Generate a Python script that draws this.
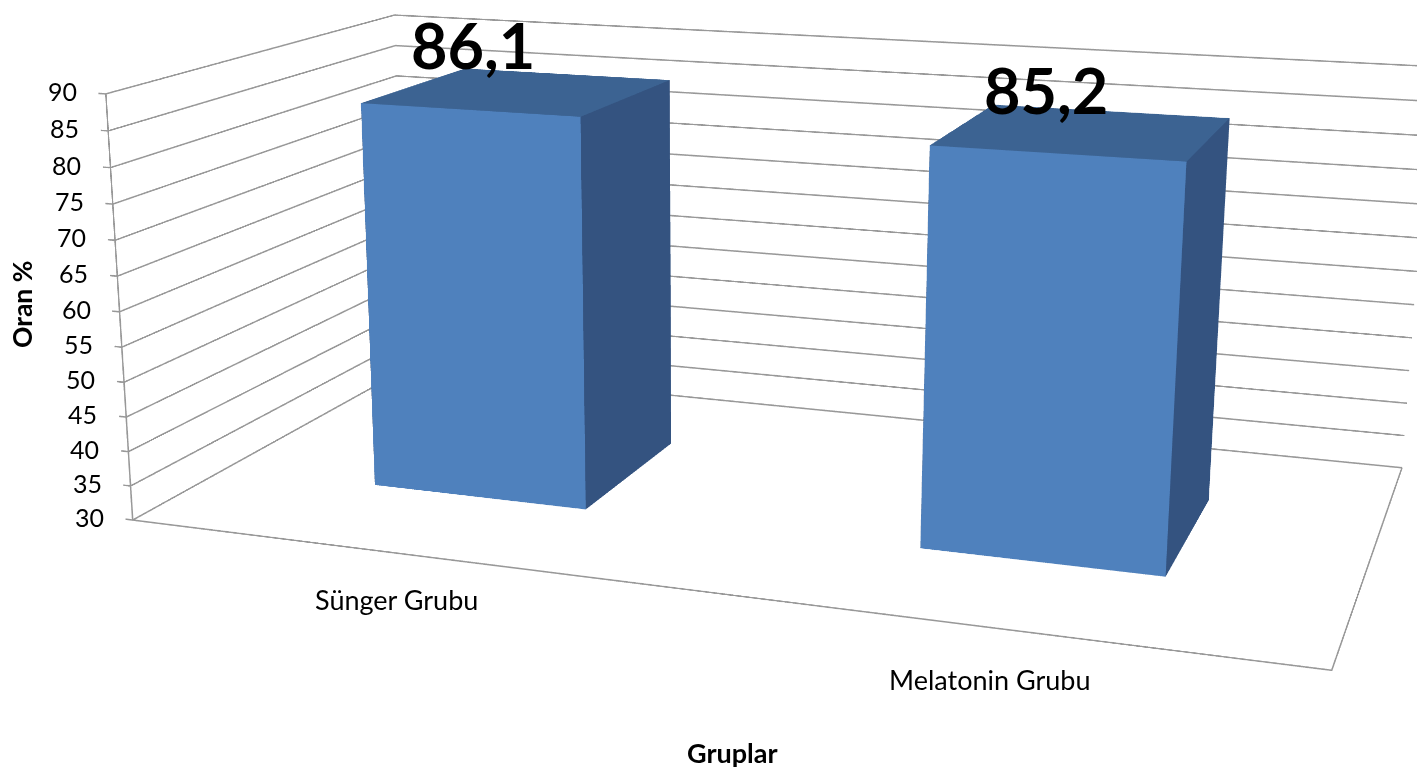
import numpy as np, plotly.graph_objects as go

categories = ["Sünger Grubu", "Melatonin Grubu"]
values = [86.1, 85.2]
ticks = list(range(30, 95, 5))

# Walls / floor in data units
X_LEFT, X_RIGHT = -0.5, 1.5
Y_FRONT, Y_BACK = 0.0, 1.0
Z_MIN, Z_MAX = 30.0, 90.0
TICK = 0.014
BAR_W = 0.4044
Y0, Y1 = 0.30325, 0.70325

# Axis ranges reach a little past the walls so that lines on the walls are not clipped
base = [(X_LEFT, X_RIGHT), (Y_FRONT, Y_BACK), (Z_MIN, Z_MAX)]
ranges = [(X_LEFT - 0.03, X_RIGHT + 0.03), (Y_FRONT - 0.03, Y_BACK + 0.03), (Z_MIN - 1.0, Z_MAX + 1.0)]

# Plotly's 3D camera has a fixed 45 degree lens. The reference has a long lens, so the scene is
# drawn on a larger canvas and the page shows its central 1417x769 part.
W, H = 3947, 2142
DX, DY = 1265, 686

eye = np.array([1.1675, -3.5766, 0.9031])
center = np.array([-0.0408, -0.2409, -0.0866])
up = np.array([-0.0005, -0.0058, 1.0])
aspect = np.array([1.7404, 0.9052, 0.6347])
# same world geometry with the wider ranges, keeping the aspect product at 1
new_aspect = aspect.copy()
for n_, ((lo, hi), (lo2, hi2)) in enumerate(zip(base, ranges)):
    new_aspect[n_] = aspect[n_] * (hi2 - lo2) / (hi - lo)
    move = ((lo + hi) / 2 - (lo2 + hi2) / 2) * aspect[n_] / (hi - lo)
    eye[n_] += move
    center[n_] += move
n = np.prod(new_aspect) ** (1 / 3)
aspect, eye, center = new_aspect / n, eye / n, center / n

FRONT, TOP, SIDE, GRID = "#4F81BD", "#3C6392", "#345380", "#989898"
FONT = "Lato"

fig = go.Figure()
# walls, floor and tick marks
lx, ly, lz = [], [], []
def seg(xs, ys, zs):
    lx.extend(list(xs) + [None]); ly.extend(list(ys) + [None]); lz.extend(list(zs) + [None])
for t in ticks:
    seg([X_LEFT - TICK, X_LEFT, X_LEFT, X_RIGHT], [Y_FRONT, Y_FRONT, Y_BACK, Y_BACK], [t, t, t, t])
seg([X_LEFT, X_RIGHT, X_RIGHT, X_LEFT], [Y_FRONT, Y_FRONT, Y_BACK, Y_BACK], [Z_MIN] * 4)
seg([X_LEFT, X_LEFT, X_LEFT], [Y_BACK, Y_FRONT, Y_FRONT], [Z_MIN, Z_MIN, Z_MAX])
fig.add_trace(go.Scatter3d(x=lx, y=ly, z=lz, mode="lines", line=dict(color=GRID, width=3), hoverinfo="skip"))

for cx, v in enumerate(values):
    a0, b0 = cx - BAR_W / 2, cx + BAR_W / 2
    xs = [a0, b0, b0, a0, a0, b0, b0, a0]
    ys = [Y0, Y0, Y1, Y1, Y0, Y0, Y1, Y1]
    zs = [Z_MIN] * 4 + [v] * 4
    i = [0, 0, 1, 1, 2, 2, 3, 3, 4, 4, 0, 0]
    j = [1, 5, 2, 6, 3, 7, 0, 4, 5, 6, 1, 2]
    k = [5, 4, 6, 5, 7, 6, 4, 7, 6, 7, 2, 3]
    fc = [FRONT, FRONT, SIDE, SIDE, SIDE, SIDE, SIDE, SIDE, TOP, TOP, SIDE, SIDE]
    fig.add_trace(go.Mesh3d(x=xs, y=ys, z=zs, i=i, j=j, k=k, facecolor=fc, flatshading=True,
                            lighting=dict(ambient=1, diffuse=0, specular=0, fresnel=0, roughness=1),
                            hoverinfo="skip"))

sa = []
yc = (Y0 + Y1) / 2
for cx, (v, sh) in enumerate(zip(values, [(-47, 47), (-38, 42)])):
    sa.append(dict(x=cx, y=yc, z=v, text="<b>%s</b>" % str(v).replace(".", ","), showarrow=False,
                   font=dict(size=63, family=FONT, color="#000"), xshift=sh[0], yshift=sh[1]))
for cx, (c, sh) in enumerate(zip(categories, [(-1, -46), (-4, -51)])):
    sa.append(dict(x=cx, y=Y_FRONT, z=Z_MIN, text=c, showarrow=False,
                   font=dict(size=27, family=FONT, color="#000"), xshift=sh[0], yshift=sh[1]))
for t in ticks:
    sa.append(dict(x=X_LEFT, y=Y_FRONT, z=t, text=str(t), showarrow=False, xanchor="right",
                   font=dict(size=25, family=FONT, color="#000"), xshift=-27, yshift=3))

def px(x, y):
    return dict(x=(x + DX) / W, y=1 - (y + DY) / H, xref="paper", yref="paper", showarrow=False,
                xanchor="center", yanchor="middle")

ax = dict(showbackground=False, showspikes=False, zeroline=False, title="", showticklabels=False,
          ticks="", showline=False, showgrid=False)
fig.update_layout(
    width=W, height=H, margin=dict(l=0, r=0, t=0, b=0, pad=0), paper_bgcolor="white", showlegend=False,
    font=dict(family=FONT, size=27, color="#000"),
    scene=dict(
        domain=dict(x=[0, 1], y=[0, 1]), aspectmode="manual",
        aspectratio=dict(x=aspect[0], y=aspect[1], z=aspect[2]),
        camera=dict(eye=dict(x=eye[0], y=eye[1], z=eye[2]), center=dict(x=center[0], y=center[1], z=center[2]),
                    up=dict(x=up[0], y=up[1], z=up[2]), projection=dict(type="perspective")),
        xaxis=dict(ax, range=ranges[0]), yaxis=dict(ax, range=ranges[1]), zaxis=dict(ax, range=ranges[2]),
        annotations=sa),
    annotations=[dict(px(22, 305), text="<b>Oran %</b>", textangle=-90, font=dict(size=26.5)),
                 dict(px(732, 753), text="<b>Gruplar</b>")])
css = ("var g=document.querySelector('.plotly-graph-div');"
       "document.documentElement.style.overflow='hidden';document.body.style.overflow='hidden';"
       "document.body.style.margin='0';g.style.position='fixed';"
       "g.style.left='%dpx';g.style.top='%dpx';" % (-DX, -DY))
fig.write_html("out.html", post_script=css)
